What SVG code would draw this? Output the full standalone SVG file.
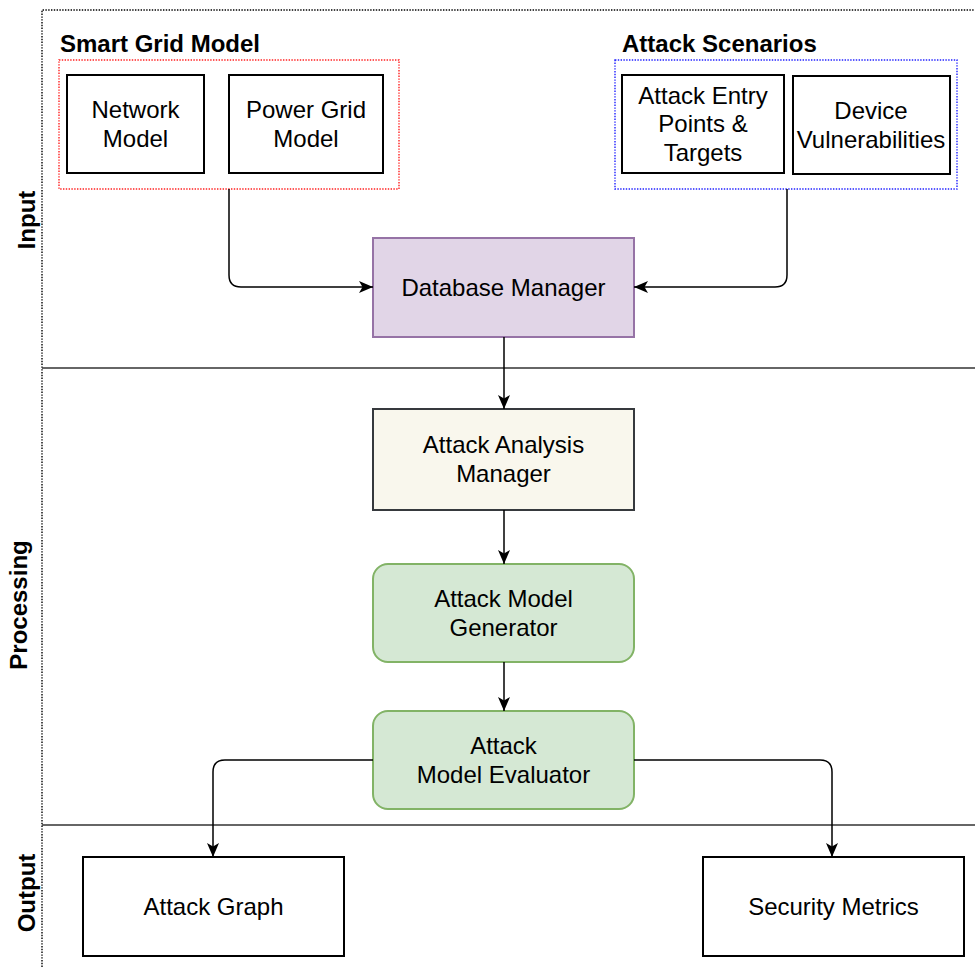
<svg xmlns="http://www.w3.org/2000/svg" width="975" height="967" viewBox="0 0 975 967">
  <style>
    .lbl { font-family: "Liberation Sans", Arial, Helvetica, sans-serif; font-size: 24px; fill: #000; text-anchor: middle; }
    .bold { font-family: "Liberation Sans", Arial, Helvetica, sans-serif; font-size: 24px; font-weight: bold; fill: #000; }
    .plain { fill: #ffffff; stroke: #000; stroke-width: 2; }
    .frame { fill: none; stroke: #000; stroke-width: 1.4; stroke-dasharray: 1.4 1.4; }
    .group { fill: none; stroke-width: 1.4; stroke-dasharray: 1.4 1.4; }
    .sep { fill: none; stroke: #333; stroke-width: 1.6; }
    .edge { fill: none; stroke: #000; stroke-width: 1.5; }
  </style>
  <defs>
    <marker id="arrow" viewBox="0 0 14 12" refX="14" refY="6" markerWidth="14" markerHeight="12" markerUnits="userSpaceOnUse" orient="auto">
      <path d="M0,0 L14,6 L0,12 L3.5,6 Z" fill="#000"/>
    </marker>
  </defs>

  <!-- background -->
  <rect x="0" y="0" width="975" height="967" fill="#ffffff"/>

  <!-- lane frame and separators -->
  <g id="lanes">
    <path class="frame" d="M42,967 V10 H975"/>
    <line class="sep" x1="42" y1="368" x2="975" y2="368"/>
    <line class="sep" x1="42" y1="825" x2="975" y2="825"/>
    <text class="bold" text-anchor="middle" transform="translate(35,220) rotate(-90)">Input</text>
    <text class="bold" text-anchor="middle" transform="translate(27,605) rotate(-90)">Processing</text>
    <text class="bold" text-anchor="middle" transform="translate(35,893) rotate(-90)">Output</text>
  </g>

  <!-- smart grid model group -->
  <g id="smart-grid-model">
    <text class="bold" x="60" y="52">Smart Grid Model</text>
    <rect class="group" x="59" y="60" width="340" height="129" stroke="#ff2020"/>
  </g>
  <g id="network-model">
    <rect class="plain" x="67" y="75" width="137" height="98"/>
    <text class="lbl" x="135.5" y="118">Network</text>
    <text class="lbl" x="135.5" y="147">Model</text>
  </g>
  <g id="power-grid-model">
    <rect class="plain" x="229" y="75" width="154" height="98"/>
    <text class="lbl" x="306" y="118">Power Grid</text>
    <text class="lbl" x="306" y="147">Model</text>
  </g>

  <!-- attack scenarios group -->
  <g id="attack-scenarios">
    <text class="bold" x="622" y="52">Attack Scenarios</text>
    <rect class="group" x="615" y="60" width="342" height="129" stroke="#2020ff"/>
  </g>
  <g id="attack-entry-points">
    <rect class="plain" x="622" y="75" width="162" height="98"/>
    <text class="lbl" x="703" y="104">Attack Entry</text>
    <text class="lbl" x="703" y="132">Points &amp;</text>
    <text class="lbl" x="703" y="161">Targets</text>
  </g>
  <g id="device-vulnerabilities">
    <rect class="plain" x="793" y="76" width="157" height="98"/>
    <text class="lbl" x="871" y="119">Device</text>
    <text class="lbl" x="871" y="148">Vulnerabilities</text>
  </g>

  <!-- processing chain -->
  <g id="database-manager">
    <rect x="373" y="238" width="261" height="99" fill="#e1d5e7" stroke="#9673a6" stroke-width="2"/>
    <text class="lbl" x="503.5" y="296">Database Manager</text>
  </g>
  <g id="attack-analysis-manager">
    <rect x="373" y="409" width="261" height="101" fill="#f9f7ed" stroke="#36393d" stroke-width="2"/>
    <text class="lbl" x="503.5" y="453">Attack Analysis</text>
    <text class="lbl" x="503.5" y="482">Manager</text>
  </g>
  <g id="attack-model-generator">
    <rect x="373" y="564" width="261" height="98" rx="15" ry="15" fill="#d5e8d4" stroke="#82b366" stroke-width="2"/>
    <text class="lbl" x="503.5" y="607">Attack Model</text>
    <text class="lbl" x="503.5" y="636">Generator</text>
  </g>
  <g id="attack-model-evaluator">
    <rect x="373" y="711" width="261" height="98" rx="15" ry="15" fill="#d5e8d4" stroke="#82b366" stroke-width="2"/>
    <text class="lbl" x="503.5" y="754">Attack</text>
    <text class="lbl" x="503.5" y="783">Model Evaluator</text>
  </g>

  <!-- outputs -->
  <g id="attack-graph">
    <rect class="plain" x="83" y="857" width="261" height="99"/>
    <text class="lbl" x="213.5" y="915">Attack Graph</text>
  </g>
  <g id="security-metrics">
    <rect class="plain" x="703" y="857" width="261" height="99"/>
    <text class="lbl" x="833.5" y="915">Security Metrics</text>
  </g>

  <!-- connectors -->
  <g id="connectors">
    <path class="edge" d="M229,189 V275 Q229,287 241,287 H373" marker-end="url(#arrow)"/>
    <path class="edge" d="M787,189 V275 Q787,287 775,287 H634" marker-end="url(#arrow)"/>
    <path class="edge" d="M504,337 V409" marker-end="url(#arrow)"/>
    <path class="edge" d="M504,510 V564" marker-end="url(#arrow)"/>
    <path class="edge" d="M504,662 V711" marker-end="url(#arrow)"/>
    <path class="edge" d="M373,760 H225 Q213,760 213,772 V857" marker-end="url(#arrow)"/>
    <path class="edge" d="M634,760 H820 Q832,760 832,772 V857" marker-end="url(#arrow)"/>
  </g>
</svg>
